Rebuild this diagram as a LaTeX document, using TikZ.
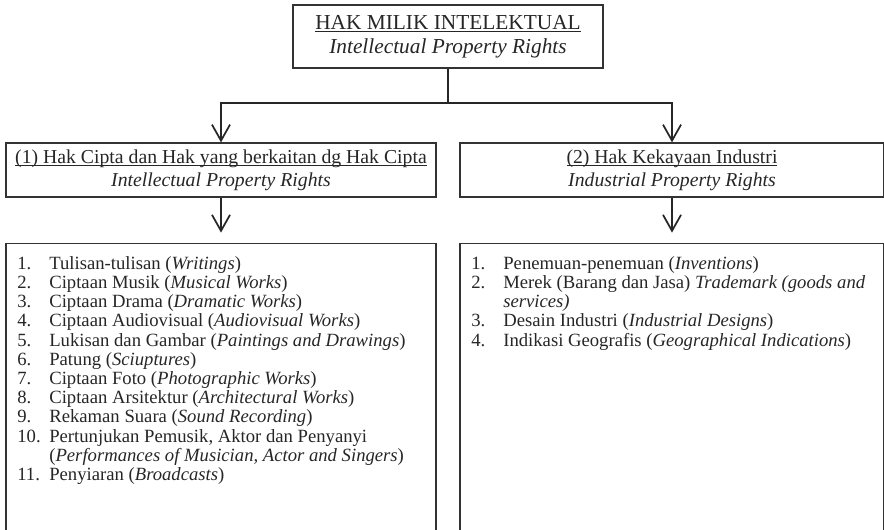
\documentclass[tikz,border=0pt]{standalone}
\usepackage{fontspec}
\setmainfont{Liberation Serif}
\usetikzlibrary{arrows.meta, positioning}
\newcommand{\ulin}[1]{\underline{\raisebox{0pt}[\height][0pt]{#1}}}

\begin{document}
\begin{tikzpicture}[
  x=0.75pt, y=-0.75pt,
  head/.style={rectangle, draw=black!80, line width=0.9pt, align=center, inner sep=0pt, text=black!85},
  listbox/.style={rectangle, draw=black!80, line width=0.9pt, inner xsep=8.5pt, inner ysep=9.5pt, text=black!85, font=\fontsize{14}{14.4}\selectfont},
  arr/.style={-{Straight Barb[length=12pt, width=13.5pt]}, line width=1.3pt, black!85}
]
  \useasboundingbox (0,0) rectangle (884,529);
  \clip (0,0) rectangle (884,529);
  \node[head, minimum width=232.5pt, minimum height=47.25pt, font=\fontsize{16}{18}\selectfont] (hmi) at (448,36.5) {\ulin{HAK MILIK INTELEKTUAL}\\\textit{Intellectual Property Rights}};
  \node[head, minimum width=322.5pt, minimum height=40.5pt, font=\fontsize{14.8}{17.25}\selectfont] (hcipta) at (221,170) {\ulin{(1) Hak Cipta dan Hak yang berkaitan dg Hak Cipta}\\\textit{Intellectual Property Rights}};
  \node[head, minimum width=318pt, minimum height=40.5pt, font=\fontsize{14.8}{17.25}\selectfont] (hki) at (672,170) {\ulin{(2) Hak Kekayaan Industri}\\\textit{Industrial Property Rights}};
  \node[listbox, below=33.75pt of hcipta] (lcipta) {\begin{minipage}[t][206pt][t]{305.5pt}
    \begin{tabular}[t]{@{}p{24pt}@{}l@{}}
      1. & Tulisan-tulisan (\textit{Writings})\\
      2. & Ciptaan Musik (\textit{Musical Works})\\
      3. & Ciptaan Drama (\textit{Dramatic Works})\\
      4. & Ciptaan Audiovisual (\textit{Audiovisual Works})\\
      5. & Lukisan dan Gambar (\textit{Paintings and Drawings})\\
      6. & Patung (\textit{Sciuptures})\\
      7. & Ciptaan Foto (\textit{Photographic Works})\\
      8. & Ciptaan Arsitektur (\textit{Architectural Works})\\
      9. & Rekaman Suara (\textit{Sound Recording})\\
      10. & Pertunjukan Pemusik, Aktor dan Penyanyi\\
          & (\textit{Performances of Musician, Actor and Singers})\\
      11. & Penyiaran (\textit{Broadcasts})
    \end{tabular}\end{minipage}};
  \node[listbox, below=33.75pt of hki] (lki) {\begin{minipage}[t][206pt][t]{301pt}
    \begin{tabular}[t]{@{}p{24pt}@{}l@{}}
      1. & Penemuan-penemuan (\textit{Inventions})\\
      2. & Merek (Barang dan Jasa) \textit{Trademark (goods and}\\
         & \textit{services)}\\
      3. & Desain Industri (\textit{Industrial Designs})\\
      4. & Indikasi Geografis (\textit{Geographical Indications})
    \end{tabular}\end{minipage}};
  \coordinate (split) at (448,103);
  \draw[line width=1pt, black!85] (hmi) -- (split);
  \draw[arr] (split) -| (hcipta);
  \draw[arr] (split) -| (hki);
  \draw[arr, shorten >=7.5pt] (hcipta) -- (lcipta);
  \draw[arr, shorten >=7.5pt] (hki) -- (lki);
\end{tikzpicture}
\end{document}
